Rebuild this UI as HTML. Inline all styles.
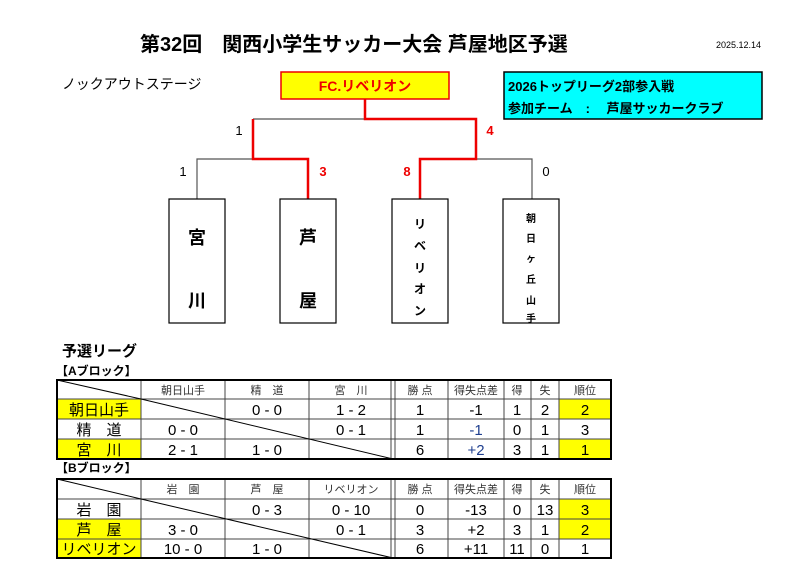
<!DOCTYPE html>
<html><head><meta charset="utf-8"><style>
html,body{margin:0;padding:0;background:#fff;}
svg{display:block;font-family:"Liberation Sans","Noto Sans CJK JP",sans-serif;}
</style></head><body>
<svg width="800" height="582" viewBox="0 0 800 582" xmlns="http://www.w3.org/2000/svg">
<rect width="800" height="582" fill="#fff"/>
<text x="140" y="51" font-size="20" font-weight="bold" fill="#000">第32回　関西小学生サッカー大会 芦屋地区予選</text>
<text x="716" y="48" font-size="9" fill="#000">2025.12.14</text>
<text x="62" y="89" font-size="14" fill="#000">ノックアウトステージ</text>

<rect x="281" y="72" width="168" height="27" fill="#ffff00" stroke="#e00" stroke-width="1.5"/>
<text x="365" y="91" font-size="14" font-weight="bold" fill="#e00" text-anchor="middle">FC.リベリオン</text>

<rect x="504" y="72" width="258" height="47" fill="#00ffff" stroke="#000" stroke-width="1.5"/>
<text x="508" y="91" font-size="13" font-weight="bold" fill="#000">2026トップリーグ2部参入戦</text>
<text x="508" y="113" font-size="13" font-weight="bold" fill="#000">参加チーム　:　 芦屋サッカークラブ</text>

<g stroke="#555" stroke-width="1.2" fill="none">
<path d="M253 119 H365"/>
<path d="M197 199 V159 H253"/>
<path d="M476 159 H532 V199"/>
</g>
<g stroke="#e00" stroke-width="2.5" fill="none">
<path d="M365 99 V119 H476 V159 H420 V199"/>
<path d="M253 119 V159 H308 V199"/>
</g>
<g font-size="13" text-anchor="middle">
<text x="239" y="135" fill="#000">1</text>
<text x="490" y="135" fill="#e00" font-weight="bold">4</text>
<text x="183" y="176" fill="#000">1</text>
<text x="323" y="176" fill="#e00" font-weight="bold">3</text>
<text x="407" y="176" fill="#e00" font-weight="bold">8</text>
<text x="546" y="176" fill="#000">0</text>
</g>
<g stroke="#000" stroke-width="1.2" fill="#fff">
<rect x="169" y="199" width="56" height="124"/>
<rect x="280" y="199" width="56" height="124"/>
<rect x="392" y="199" width="56" height="124"/>
<rect x="503" y="199" width="56" height="124"/>
</g>
<g font-size="18" font-weight="bold" text-anchor="middle" fill="#000">
<text x="197" y="244">宮</text><text x="197" y="307">川</text>
<text x="308" y="244">芦</text><text x="308" y="307">屋</text>
</g>
<g font-size="12" font-weight="bold" text-anchor="middle" fill="#000">
<text x="420" y="228">リ</text><text x="420" y="250">ベ</text><text x="420" y="272">リ</text><text x="420" y="293">オ</text><text x="420" y="315">ン</text>
</g>
<g font-size="10" font-weight="bold" text-anchor="middle" fill="#000">
<text x="531" y="222">朝</text><text x="531" y="242">日</text><text x="531" y="262">ヶ</text><text x="531" y="283">丘</text><text x="531" y="304">山</text><text x="531" y="322">手</text>
</g>

<text x="62" y="356" font-size="15" font-weight="bold" fill="#000">予選リーグ</text>
<text x="56" y="375" font-size="12" font-weight="bold" fill="#000">【Aブロック】</text>
<text x="56" y="472" font-size="12" font-weight="bold" fill="#000">【Bブロック】</text>

<g>
<rect x="57" y="399" width="84" height="20" fill="#ffff00"/>
<rect x="57" y="439" width="84" height="20" fill="#ffff00"/>
<rect x="559" y="399" width="52" height="20" fill="#ffff00"/>
<rect x="559" y="439" width="52" height="20" fill="#ffff00"/>
<g stroke="#444" stroke-width="1" fill="none">
<path d="M57 399 H611 M57 419 H611 M57 439 H611"/>
<path d="M141 380 V459 M225 380 V459 M309 380 V459 M391 380 V459 M395 380 V459 M448 380 V459 M504 380 V459 M531 380 V459 M559 380 V459"/>
<path d="M57 380 L141 399 M141 399 L393 459" stroke="#000"/>
</g>
<rect x="57" y="380" width="554" height="79" fill="none" stroke="#000" stroke-width="2"/>
<g font-size="11" text-anchor="middle" fill="#333">
<text x="183" y="394">朝日山手</text><text x="267" y="394">精　道</text><text x="351" y="394">宮　川</text>
<text x="420" y="394">勝 点</text><text x="476" y="394">得失点差</text><text x="517" y="394">得</text><text x="545" y="394">失</text><text x="585" y="394">順位</text>
</g>
<g font-size="15" text-anchor="middle" fill="#000">
<text x="99" y="415">朝日山手</text><text x="267" y="415">0 - 0</text><text x="351" y="415">1 - 2</text><text x="420" y="415">1</text><text x="476" y="415">-1</text><text x="517" y="415">1</text><text x="545" y="415">2</text><text x="585" y="415">2</text>
<text x="99" y="435">精　道</text><text x="183" y="435">0 - 0</text><text x="351" y="435">0 - 1</text><text x="420" y="435">1</text><text x="476" y="435" fill="#1f3f8f">-1</text><text x="517" y="435">0</text><text x="545" y="435">1</text><text x="585" y="435">3</text>
<text x="99" y="455">宮　川</text><text x="183" y="455">2 - 1</text><text x="267" y="455">1 - 0</text><text x="420" y="455">6</text><text x="476" y="455" fill="#1f3f8f">+2</text><text x="517" y="455">3</text><text x="545" y="455">1</text><text x="585" y="455">1</text>
</g>
</g>

<g>
<rect x="57" y="519" width="84" height="20" fill="#ffff00"/>
<rect x="57" y="539" width="84" height="19" fill="#ffff00"/>
<rect x="559" y="499" width="52" height="20" fill="#ffff00"/>
<rect x="559" y="519" width="52" height="20" fill="#ffff00"/>
<g stroke="#444" stroke-width="1" fill="none">
<path d="M57 499 H611 M57 519 H611 M57 539 H611"/>
<path d="M141 479 V558 M225 479 V558 M309 479 V558 M391 479 V558 M395 479 V558 M448 479 V558 M504 479 V558 M531 479 V558 M559 479 V558"/>
<path d="M57 479 L141 499 M141 499 L393 558" stroke="#000"/>
</g>
<rect x="57" y="479" width="554" height="79" fill="none" stroke="#000" stroke-width="2"/>
<g font-size="11" text-anchor="middle" fill="#333">
<text x="183" y="493">岩　園</text><text x="267" y="493">芦　屋</text><text x="351" y="493">リベリオン</text>
<text x="420" y="493">勝 点</text><text x="476" y="493">得失点差</text><text x="517" y="493">得</text><text x="545" y="493">失</text><text x="585" y="493">順位</text>
</g>
<g font-size="15" text-anchor="middle" fill="#000">
<text x="99" y="515">岩　園</text><text x="267" y="515">0 - 3</text><text x="351" y="515">0 - 10</text><text x="420" y="515">0</text><text x="476" y="515">-13</text><text x="517" y="515">0</text><text x="545" y="515">13</text><text x="585" y="515">3</text>
<text x="99" y="535">芦　屋</text><text x="183" y="535">3 - 0</text><text x="351" y="535">0 - 1</text><text x="420" y="535">3</text><text x="476" y="535">+2</text><text x="517" y="535">3</text><text x="545" y="535">1</text><text x="585" y="535">2</text>
<text x="99" y="554">リベリオン</text><text x="183" y="554">10 - 0</text><text x="267" y="554">1 - 0</text><text x="420" y="554">6</text><text x="476" y="554">+11</text><text x="517" y="554">11</text><text x="545" y="554">0</text><text x="585" y="554">1</text>
</g>
</g>
</svg>
</body></html>
